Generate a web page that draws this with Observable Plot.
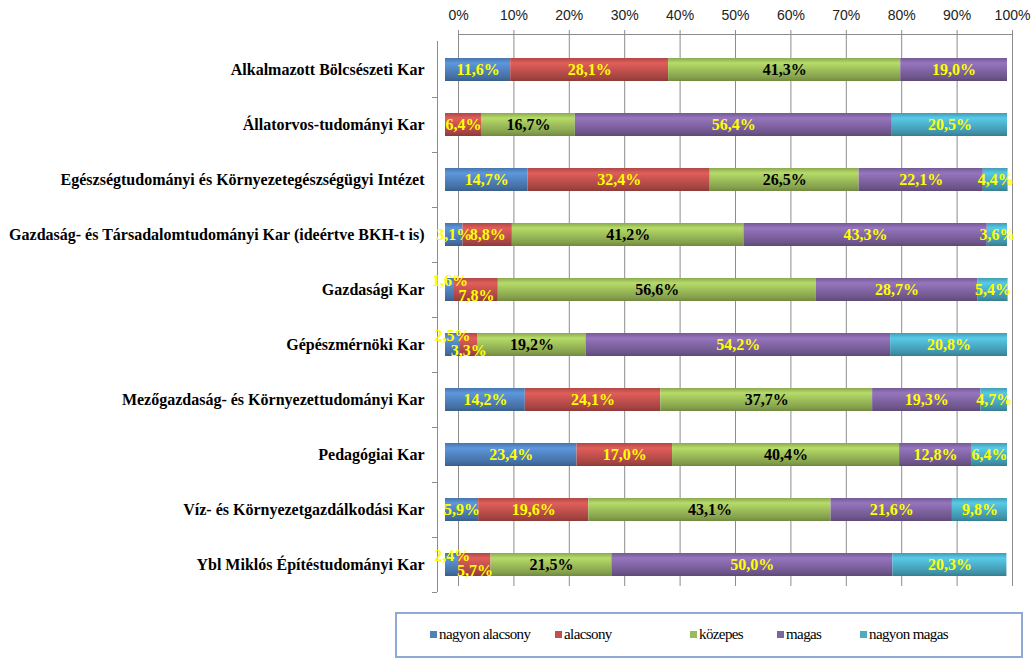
<!DOCTYPE html>
<html>
<head>
<meta charset="utf-8">
<script src="https://cdn.jsdelivr.net/npm/d3@7"></script>
<script src="https://cdn.jsdelivr.net/npm/@observablehq/plot@0.6"></script>
<style>
  html, body { margin: 0; padding: 0; background: #fff; }
  #chart { position: relative; width: 1036px; height: 660px; overflow: hidden; }
  #chart > svg, #chart > figure { position: absolute; left: 0; top: 0; margin: 0; }
  #legend { position: absolute; left: 395px; top: 612px; width: 628px; height: 46px;
    border: 2px solid #8EA9D4; box-sizing: border-box;
    font-family: "Liberation Serif", "Times New Roman", serif; font-size: 15px; letter-spacing: -0.6px; color: #000; }
  #legend .item { position: absolute; top: 11px; white-space: nowrap; line-height: 18px; }
  #legend .sw { display: inline-block; width: 7px; height: 7px; margin-right: 2px; vertical-align: 1px; }
</style>
</head>
<body>
<svg width="0" height="0" style="position:absolute">
  <defs id="gradDefs"></defs>
</svg>
<div id="chart"></div>
<script>
// ---- data ----
const faculties = [
  "Alkalmazott Bölcsészeti Kar",
  "Állatorvos-tudományi Kar",
  "Egészségtudományi és Környezetegészségügyi Intézet",
  "Gazdaság- és Társadalomtudományi Kar (ideértve BKH-t is)",
  "Gazdasági Kar",
  "Gépészmérnöki Kar",
  "Mezőgazdaság- és Környezettudományi Kar",
  "Pedagógiai Kar",
  "Víz- és Környezetgazdálkodási Kar",
  "Ybl Miklós Építéstudományi Kar"
];
const seriesNames = ["nagyon alacsony", "alacsony", "közepes", "magas", "nagyon magas"];
const nagyonAlacsony = [11.6, 0, 14.7, 3.1, 1.6, 2.5, 14.2, 23.4, 5.9, 2.4];
const alacsony       = [28.1, 6.4, 32.4, 8.8, 7.8, 3.3, 24.1, 17.0, 19.6, 5.7];
const kozepes        = [41.3, 16.7, 26.5, 41.2, 56.6, 19.2, 37.7, 40.4, 43.1, 21.5];
const magas          = [19.0, 56.4, 22.1, 43.3, 28.7, 54.2, 19.3, 12.8, 21.6, 50.0];
const nagyonMagas    = [0, 20.5, 4.4, 3.6, 5.4, 20.8, 4.7, 6.4, 9.8, 20.3];
const tickValues = [0, 10, 20, 30, 40, 50, 60, 70, 80, 90, 100];

// ---- styles ----
const baseColors = ["#4F81BD", "#C0504D", "#9BBB59", "#8064A2", "#4BACC6"];
const defs = document.getElementById("gradDefs");
baseColors.forEach((c, i) => {
  const col = d3.color(c);
  const stops = [
    [0, col.darker(0.3)], [0.22, col.brighter(0.45)], [0.55, col], [0.85, col.darker(0.45)], [1, col.darker(0.9)]
  ];
  const g = document.createElementNS("http://www.w3.org/2000/svg", "linearGradient");
  g.setAttribute("id", "grad" + i);
  g.setAttribute("x1", "0"); g.setAttribute("y1", "0"); g.setAttribute("x2", "0"); g.setAttribute("y2", "1");
  stops.forEach(([o, cc]) => {
    const s = document.createElementNS("http://www.w3.org/2000/svg", "stop");
    s.setAttribute("offset", o);
    s.setAttribute("stop-color", cc.formatHex());
    g.appendChild(s);
  });
  defs.appendChild(g);
});

// ---- long table (manual stacking) ----
const seriesValues = [nagyonAlacsony, alacsony, kozepes, magas, nagyonMagas];
const rows = [];
faculties.forEach((f, fi) => {
  let acc = 0;
  seriesValues.forEach((vals, si) => {
    const v = vals[fi];
    const tinyBlue = si === 1 && nagyonAlacsony[fi] > 0 && nagyonAlacsony[fi] < 3;
    rows.push({
      faculty: f, series: seriesNames[si], si, value: v,
      x1: acc, x2: acc + v, mid: acc + v / 2,
      shift: (si === 0 && v > 0 && v < 3) ? "up" : (tinyBlue ? "down" : "mid")
    });
    acc += v;
  });
});
const shown = rows.filter(d => d.value > 0);
const fmt = d => d.value.toFixed(1).replace(".", ",") + "%";

const W = 1036;
const serif = "'Liberation Serif', 'Times New Roman', serif";
const lblSize = 16;

// ---- back wall: grid + top axis ----
const back = Plot.plot({
  width: W, height: 600,
  marginLeft: 458, marginRight: 24, marginTop: 34, marginBottom: 14,
  x: { domain: [0, 100], axis: null },
  y: { domain: [0, 1], axis: null },
  style: { fontFamily: "'Liberation Sans', Arial, sans-serif", fontSize: "14px", color: "#222", background: "white" },
  marks: [
    Plot.gridX(tickValues, { stroke: "#8C8C8C", strokeOpacity: 1 }),
    Plot.ruleY([1], { stroke: "#8C8C8C" }),
    Plot.axisX(tickValues, { anchor: "top", tickSize: 5, tickPadding: 10, stroke: "#8C8C8C",
      tickFormat: d => d + "%", fill: "#222", label: null })
  ]
});

// ---- front: bars, labels, category axis ----
const front = Plot.plot({
  width: W, height: 600,
  marginLeft: 445, marginRight: 29, marginTop: 41, marginBottom: 8,
  x: { domain: [0, 100], axis: null },
  y: { domain: faculties, padding: 0, axis: null },
  color: { domain: seriesNames, range: seriesNames.map((s, i) => `url(#grad${i})`) },
  style: { background: "transparent", fontFamily: serif, overflow: "visible" },
  marks: [
    Plot.ruleX([0], { dx: -8, stroke: "#8C8C8C" }),
    Plot.axisY({ tickSize: 0, tickPadding: 21, fontWeight: "bold", fontSize: 16, fill: "#000", label: null, fontFamily: serif }),
    Plot.axisY({ text: null, tickSize: 5, dx: -8, dy: 27.5, stroke: "#8C8C8C", label: null }),
    Plot.barX(shown, { y: "faculty", x1: "x1", x2: "x2", fill: "series", insetTop: 16, insetBottom: 16 }),
    Plot.text(shown.filter(d => d.si !== 2 && d.shift === "mid"), { y: "faculty", x: "mid", text: fmt,
      fill: "#FFFF00", fontWeight: "bold", fontSize: lblSize, fontFamily: serif }),
    Plot.text(shown.filter(d => d.shift === "up"), { y: "faculty", x: "mid", text: fmt, dy: -9,
      fill: "#FFFF00", fontWeight: "bold", fontSize: lblSize, fontFamily: serif }),
    Plot.text(shown.filter(d => d.shift === "down"), { y: "faculty", x: "mid", text: fmt, dy: 6,
      fill: "#FFFF00", fontWeight: "bold", fontSize: lblSize, fontFamily: serif }),
    Plot.text(shown.filter(d => d.si === 2), { y: "faculty", x: "mid", text: fmt,
      fill: "#000", fontWeight: "bold", fontSize: lblSize, fontFamily: serif })
  ]
});

const chart = document.getElementById("chart");
chart.appendChild(back);
chart.appendChild(front);

// ---- legend ----
const legend = document.createElement("div");
legend.id = "legend";
const legendLeft = [33, 158, 293, 380, 463];
seriesNames.forEach((s, i) => {
  const it = document.createElement("span");
  it.className = "item";
  it.style.left = legendLeft[i] + "px";
  it.innerHTML = `<span class="sw" style="background:${baseColors[i]}"></span>${s}`;
  legend.appendChild(it);
});
chart.appendChild(legend);
</script>
</body>
</html>
